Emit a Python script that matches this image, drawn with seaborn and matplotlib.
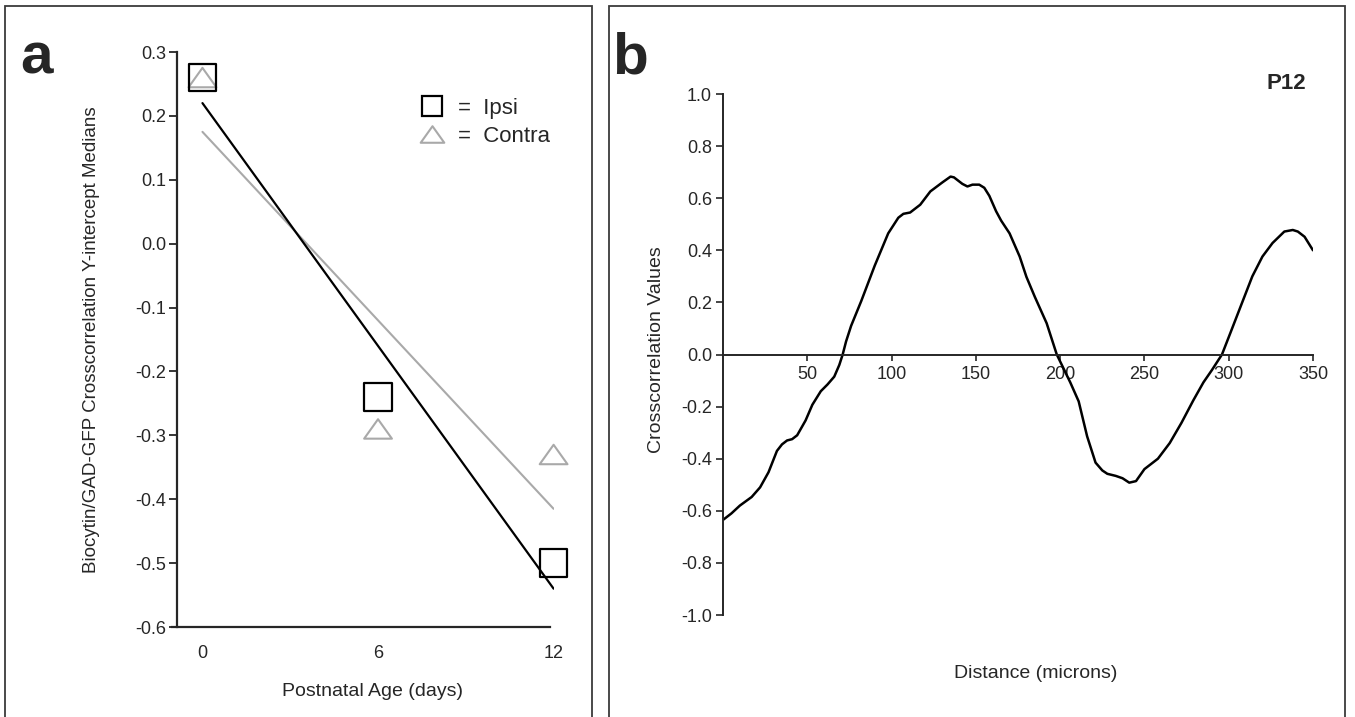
import numpy as np
import matplotlib
matplotlib.use("Agg")
import matplotlib.pyplot as plt
from matplotlib.lines import Line2D
from matplotlib.patches import Rectangle
from matplotlib.path import Path
import seaborn as sns

# panel a: medians per postnatal age
age = [0, 6, 12]
ipsi = [0.26, -0.24, -0.50]
contra = [0.26, -0.29, -0.33]

# panel b: P12 crosscorrelation trace
distance = [0, 5, 10, 17, 22, 27, 32, 35, 38, 41, 44, 49, 53, 58, 62, 66, 69, 71, 73, 76,
            82, 90, 98, 104, 107, 111, 117, 123, 130, 135, 137, 139, 142, 145, 148, 152,
            155, 158, 162, 165, 170, 176, 180, 185, 192, 198, 206, 211, 216, 221, 225,
            228, 233, 237, 241, 245, 250, 254, 258, 265, 272, 279, 285, 290, 296, 301,
            308, 314, 320, 326, 333, 338, 341, 345, 350]
xcorr = [-0.635, -0.61, -0.58, -0.547, -0.51, -0.452, -0.37, -0.345, -0.33, -0.325, -0.31,
         -0.253, -0.193, -0.141, -0.115, -0.085, -0.04, 0.0, 0.05, 0.11,
         0.205, 0.341, 0.465, 0.525, 0.54, 0.545, 0.575, 0.626, 0.66, 0.683, 0.68, 0.67,
         0.655, 0.645, 0.652, 0.652, 0.64, 0.609, 0.55, 0.514, 0.465, 0.376, 0.298, 0.221,
         0.12, 0.0, -0.107, -0.18, -0.314, -0.415, -0.445, -0.458, -0.466, -0.475, -0.492,
         -0.486, -0.44, -0.42, -0.4, -0.34, -0.262, -0.176, -0.107, -0.06, 0.0, 0.083,
         0.2, 0.3, 0.376, 0.428, 0.472, 0.478, 0.472, 0.452, 0.4]

sns.set_style("ticks")
plt.rcParams["font.family"] = ["Liberation Sans", "DejaVu Sans"]
plt.rcParams["axes.unicode_minus"] = False

GRAY = "#a9a9a9"
tri = Path([(-1, -0.7), (0, 0.7), (1, -0.7), (-1, -0.7)], closed=True)


def fmt(vals):
    return [f"{v:.1f}" for v in np.round(vals, 1) + 0.0]


fig = plt.figure(figsize=(13.55, 7.17), dpi=100)
fig.patch.set_facecolor("white")

# panel frames
W, H = 1355, 717
for x0, x1 in [(5, 592), (609, 1345)]:
    fig.patches.append(Rectangle((x0 / W, -0.05), (x1 - x0) / W, 1.05 - 6 / H,
                                 transform=fig.transFigure, fill=False,
                                 edgecolor="#3a3a3a", lw=1.3))

# ---- panel a ----
ax1 = fig.add_axes([177 / W, 1 - 627 / H, 376.6 / W, 575 / H])
sns.regplot(x=age, y=contra, ax=ax1, ci=None, marker=tri,
            scatter_kws=dict(s=400, facecolors="none", edgecolors=GRAY, linewidths=1.5,
                             alpha=1, clip_on=False, zorder=4),
            line_kws=dict(color=GRAY, lw=1.5))
sns.regplot(x=age, y=ipsi, ax=ax1, ci=None, marker="s",
            scatter_kws=dict(s=400, facecolors="none", edgecolors="black", linewidths=1.6,
                             alpha=1, clip_on=False, zorder=4),
            line_kws=dict(color="black", lw=1.6))

yt_a = np.arange(-0.6, 0.31, 0.1)
ax1.set_xlim(-0.87, 12)
ax1.set_ylim(-0.6, 0.3)
ax1.set_xticks([0, 6, 12])
ax1.set_yticks(yt_a)
ax1.set_yticklabels(fmt(yt_a))
ax1.spines["top"].set_visible(False)
ax1.spines["right"].set_visible(False)
ax1.spines["bottom"].set_bounds(-1.05, 11.86)
for s in ["left", "bottom"]:
    ax1.spines[s].set_linewidth(1.6)
ax1.tick_params(axis="x", length=0, pad=13, labelsize=13)
ax1.tick_params(axis="y", length=6, width=1.3, direction="out", pad=2, labelsize=13)
ax1.set_xlabel("Postnatal Age (days)", fontsize=14)
ax1.set_ylabel("Biocytin/GAD-GFP Crosscorrelation Y-intercept Medians", fontsize=13.5)
ax1.xaxis.set_label_coords(0.52, -0.097)
ax1.yaxis.set_label_coords(-0.205, 0.5)

handles = [Line2D([], [], ls="", marker="s", ms=15, mfc="none", mec="black", mew=1.6),
           Line2D([], [], ls="", marker=tri, ms=17, mfc="none", mec=GRAY, mew=1.5)]
ax1.legend(handles, ["=  Ipsi", "=  Contra"], loc="upper left",
           bbox_to_anchor=(0.566, 0.955), frameon=False, fontsize=16,
           handletextpad=0.15, labelspacing=0.3)

fig.text(37 / W, 1 - 58 / H, "a", fontsize=42, fontweight="bold", ha="center", va="center")

# ---- panel b ----
ax2 = fig.add_axes([723 / W, 1 - 615 / H, 590 / W, 521 / H])
sns.lineplot(x=distance, y=xcorr, ax=ax2, color="black", lw=1.8, sort=False)
yt_b = np.arange(-1.0, 1.01, 0.2)
ax2.set_xlim(0, 350)
ax2.set_ylim(-1.0, 1.0)
ax2.spines["top"].set_visible(False)
ax2.spines["right"].set_visible(False)
ax2.spines["bottom"].set_position(("data", 0))
for s in ["left", "bottom"]:
    ax2.spines[s].set_linewidth(1.4)
ax2.set_xticks([50, 100, 150, 200, 250, 300, 350])
ax2.set_yticks(yt_b)
ax2.set_yticklabels(fmt(yt_b))
ax2.tick_params(axis="x", length=4, width=1.2, direction="out", pad=4, labelsize=13)
ax2.tick_params(axis="y", length=5, width=1.2, direction="out", pad=3, labelsize=13)
for lab in ax2.get_xticklabels():
    lab.set_bbox(dict(facecolor="white", edgecolor="none", pad=1))
ax2.set_xlabel("Distance (microns)", fontsize=14)
ax2.set_ylabel("Crosscorrelation Values", fontsize=14)
ax2.xaxis.set_label_coords(0.53, -0.096)
ax2.yaxis.set_label_coords(-0.098, 0.51)
ax2.text(0.955, 1.02, "P12", transform=ax2.transAxes, fontsize=16, fontweight="bold",
         ha="center", va="center")

fig.text(630 / W, 1 - 58 / H, "b", fontsize=42, fontweight="bold", ha="center", va="center")

fig.savefig("out.png", dpi=100, facecolor="white")
